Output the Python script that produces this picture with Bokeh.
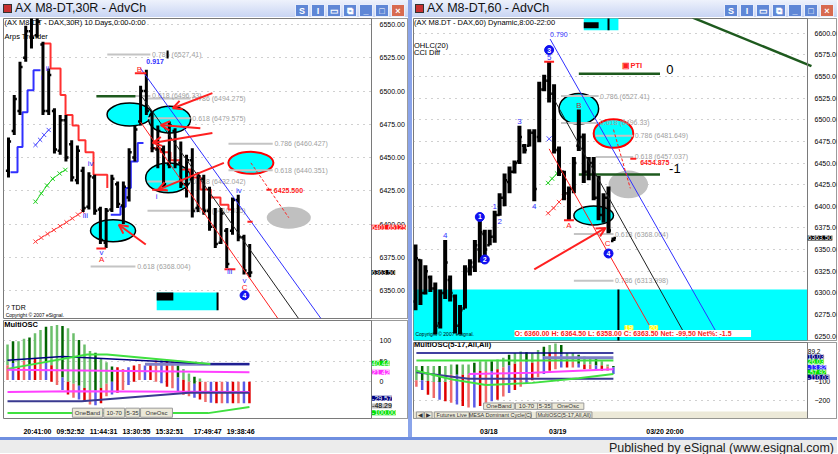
import numpy as np
from bokeh.plotting import figure
from bokeh.layouts import column, row
from bokeh.models import (Div, Range1d, FixedTicker, PrintfTickFormatter, Label, Arrow,
                          OpenHead, BoxAnnotation, ColumnDataSource, Span)
from bokeh.embed import file_html
from bokeh.resources import INLINE
from bokeh.core.properties import value

FONT = "Liberation Sans"

# ================= LEFT CHART : AX M8-DT,30R =================
L_high = [6465, 6497, 6522, 6549, 6557, 6556, 6537, 6517, 6487, 6482, 6482, 6463, 6459, 6443, 6439, 6437,
          6413, 6412, 6437, 6432, 6432, 6457, 6474, 6504, 6516, 6484, 6474, 6459, 6477, 6472, 6462, 6452,
          6457, 6439, 6437, 6428, 6412, 6412, 6397, 6420, 6422, 6392, 6385]
L_low = [6435, 6467, 6482, 6522, 6532, 6540, 6482, 6482, 6453, 6452, 6447, 6432, 6430, 6409, 6411, 6407,
         6385, 6382, 6409, 6412, 6400, 6417, 6447, 6474, 6482, 6454, 6442, 6427, 6442, 6442, 6427, 6420,
         6405, 6409, 6407, 6395, 6382, 6385, 6367, 6392, 6387, 6362, 6360]
L_open = [6440, 6470, 6485, 6525, 6545, 6542, 6535, 6485, 6485, 6455, 6478, 6460, 6433, 6440, 6413, 6435,
          6411, 6386, 6411, 6430, 6414, 6420, 6450, 6477, 6500, 6482, 6456, 6456, 6445, 6470, 6446, 6430,
          6448, 6412, 6434, 6410, 6398, 6386, 6395, 6395, 6418, 6390, 6363]
L_close = [6462, 6494, 6518, 6545, 6540, 6552, 6485, 6512, 6456, 6478, 6450, 6435, 6455, 6412, 6436, 6410,
           6388, 6410, 6434, 6415, 6428, 6454, 6471, 6500, 6485, 6457, 6470, 6430, 6474, 6445, 6430, 6448,
           6410, 6436, 6410, 6398, 6385, 6408, 6370, 6418, 6390, 6365, 6363.5]
L_ticks = [6350, 6375, 6400, 6425, 6450, 6475, 6500, 6525, 6550]

# Arps Trender steps
L_blue1_x = [0.35, 1.57, 2.44, 3.31, 4.36, 5.57]
L_blue1_y = [6439, 6458, 6484, 6500.6, 6515.6, 6515.6]
L_red1_x = [5.92, 7.32, 9.06, 9.93, 11.15, 12.2, 13.4, 14.8, 17.2]
L_red1_y = [6535.8, 6517, 6497, 6482, 6474, 6463, 6454, 6437, 6427]
L_blue2_x = [17.8, 19.5, 20.4, 21.3, 22.5, 23.5]
L_blue2_y = [6407, 6413, 6427, 6447, 6461, 6461]
L_red2_x = [24.7, 26.5, 28.2, 30.0, 31.7, 33.4, 35.2, 36.9, 38.3, 39.0]
L_red2_y = [6457, 6454, 6448, 6441, 6435, 6426, 6420, 6414.5, 6411, 6411]

# ellipses
L_ell_x = [21.08, 28.05, 27.8, 18.2]
L_ell_y = [6482.3, 6478.5, 6434.7, 6395.0]
L_ell_w = [7.84, 7.3, 7.84, 7.84]
L_ell_h = [17.2, 20.2, 22.5, 16.5]
L_ellred = [42.2, 6446.0, 7.84, 16.5]
L_ellgray = [48.8, 6404.8, 7.67, 16.5]

# fib levels
L_fib_text = ["0.786 (6527.41)", "0.618 (6496.33)", "0.786 (6494.275)", "0.618 (6479.575)",
              "0.786 (6460.427)", "0.618 (6440.351)", "0.618 (6432.042)", "0.786 (6410.035)",
              "0.618 (6368.004)"]
L_fib_val = [6527.41, 6496.33, 6494.275, 6479.575, 6460.427, 6440.351, 6432.042, 6410.035, 6368.004]
L_fib_x0 = [17.2, 17.2, 24.2, 24.2, 38.3, 38.3, 24.2, 24.2, 14.3]
L_fib_x1 = [24.7, 24.7, 31.7, 31.7, 46.0, 46.0, 31.7, 31.7, 22.1]

# trend lines
L_tl_x0 = [23.0, 23.3, 23.0]
L_tl_y0 = [6517.0, 6495.4, 6476.6]
L_tl_x1 = [54.4, 50.5, 46.9]
L_tl_y1 = [6329.0, 6329.0, 6329.0]
L_tl_col = ["#3030ff", "#202020", "#ff2020"]

# arrows
L_arr_x0 = [23.9, 35.5, 35.5, 37.5, 33.4]
L_arr_y0 = [6384.6, 6498.4, 6468.4, 6446.0, 6472.0]
L_arr_x1 = [19.2, 28.6, 25.1, 26.0, 26.5]
L_arr_y1 = [6399.5, 6487.0, 6461.0, 6425.7, 6474.4]

# wave labels
L_lab_x = [5.75, 6.8, 13.4, 14.3, 16.2, 16.2, 22.8, 25.8, 40.1, 38.5, 41.1, 41.1]
L_lab_y = [6510.3, 6517.0, 6406.3, 6445.2, 6378.6, 6373.4, 6516.3, 6420.5, 6425.0, 6364.4, 6357.6, 6352.4]
L_lab_t = ["i", "ii", "iii", "iv", "v", "A", "B", "i", "iv", "iii", "v", "C"]
L_lab_c = ["#3030ff", "#3030ff", "#3030ff", "#3030ff", "#3030ff", "#ff2020", "#ff2020", "#3030ff",
           "#3030ff", "#3030ff", "#3030ff", "#ff2020"]
L_circ = [41.1, 6346.4, "4"]

L_rtick_x0 = [15.3, 22.0, 25.0, 37.6, 41.6, 44.9]
L_rtick_x1 = [17.0, 24.0, 27.5, 39.5, 42.5, 45.8]
L_rtick_y = [6381.6, 6513.3, 6425.7, 6366.0, 6401.8, 6425.7]
L_target = [46.2, 6425.5, "6425.500"]

L_xb_x = [4.7, 5.5, 6.2, 7.0]
L_xb_y = [6459.4, 6463.3, 6467.0, 6470.7]
L_xg_x = [4.7, 5.7, 6.7, 7.7, 8.9, 9.9]
L_xg_y = [6416.8, 6423.0, 6429.0, 6434.0, 6438.0, 6440.7]
L_xr_x = [4.7, 5.7, 6.8, 7.9, 9.0, 10.1, 11.1, 12.1, 12.9]
L_xr_y = [6386.8, 6389.7, 6392.6, 6395.5, 6398.4, 6401.3, 6404.2, 6407.1, 6409.4]

L_green_level = [15.3, 22.1, 6496.1]
L_box = [25.8, 36.4, 6335.2, 6348.6, 28.7, 6342.6]
L_tags_t = ["6401.65125", "6363.50"]
L_tags_y = [6397.5, 6363.5]
L_tags_bg = ["#ff1010", "black"]

# ---- left oscillator ----
OL_top = [90, 98, 98, 104, 107, 117, 125, 133, 135, 137, 135, 129, 117, 101, 90, 74, 70, 55, 47, 37,
          35, 31, 35, 39, 43, 39, 43, 51, 52, 52, 52, 39, 31, 20, 12, 8, 0, 0, 0, 0, 0, 0, 0, 0, 0]
OL_mid = [40, 45, 35, 50, 40, 55, 50, 45, 40, 30, 10, 0, -5, -10, -15, -20, -20, -15, -5, 0,
          35, 31, 35, 39, 43, 39, 43, 51, 52, 52, 52, 10, 5, 0, -5, 0, 0, 0, 0, 0, 0, 0, 0, 0, 0]
OL_bot = [4, 4, 4, 4, 4, 4, 4, 4, 0, -8, -20, -31, -39, -43, -47, -55, -57, -52, -35, -31,
          -27, -20, -8, 0, 4, 4, 4, 0, -4, -12, -16, -23, -31, -35, -39, -43, -49, -51, -52, -52,
          -52, -52, -52, -52, -52]
OL_navyhi_x = [0, 10, 37, 44]; OL_navyhi_y = [52, 61, 43, 43]
OL_green_x = [0, 14.5, 18.1, 36.9]; OL_green_y = [31, 66, 66, 43]
OL_slate_x = [25, 44]; OL_slate_y = [42, 42]
OL_maghi_x = [0, 44]; OL_maghi_y = [29, 23]
OL_maglo_x = [0, 12, 44]; OL_maglo_y = [-25, -23, -25]
OL_navylo_x = [0, 13.5, 33, 44]; OL_navylo_y = [-47, -47, -27, -27]
OL_greenlo_x = [0, 36.5, 44]; OL_greenlo_y = [-76, -76, -61]
OL_xticks = [5.45, 11.45, 17.45, 23.45, 29.45, 36.4, 42.4]
OL_xlabels = ["20:41:00", "09:52:52", "11:44:31", "13:30:55", "15:32:51", "17:49:47", "19:38:46"]
OL_tags_t = ["40.44", "21.42", "-29.57", "-48.29", "-100.00"]
OL_tags_y = [44.5, 23, -40, -58.5, -75]
OL_tags_bg = ["#00e000", "#ff30ff", "#000080", "#c0c0c0", "#00e000"]
OL_tags_fg = ["white", "white", "white", "black", "white"]

# ================= RIGHT CHART : AX M8-DT,60 =================
R_high = [6356, 6339, 6332, 6320, 6312, 6304, 6361, 6320, 6298, 6286, 6332, 6339, 6361, 6384, 6373, 6373,
          6395, 6415, 6438, 6446, 6453, 6493, 6472, 6489, 6489, 6544, 6552, 6567, 6541, 6469, 6441, 6423,
          6457, 6512, 6484, 6457, 6457, 6435, 6415, 6423, 6364]
R_low = [6280, 6286, 6298, 6301, 6252, 6259, 6293, 6290, 6253, 6252, 6282, 6320, 6324, 6335, 6343, 6355,
         6358, 6389, 6400, 6415, 6438, 6449, 6461, 6469, 6406, 6474, 6533, 6520, 6461, 6435, 6407, 6383,
         6415, 6464, 6427, 6430, 6407, 6384, 6381, 6369, 6360]
R_open = [6290, 6338, 6300, 6318, 6305, 6265, 6300, 6315, 6296, 6262, 6282, 6325, 6330, 6350, 6368, 6355,
          6365, 6390, 6410, 6428, 6440, 6452, 6470, 6470, 6485, 6480, 6535, 6545, 6530, 6465, 6440, 6415,
          6420, 6470, 6480, 6440, 6450, 6410, 6390, 6410, 6360]
R_close = [6340, 6300, 6325, 6305, 6262, 6300, 6335, 6300, 6262, 6280, 6328, 6335, 6355, 6370, 6350, 6365,
           6390, 6410, 6430, 6440, 6450, 6480, 6465, 6485, 6420, 6535, 6545, 6530, 6465, 6440, 6415, 6420,
           6450, 6480, 6440, 6450, 6410, 6390, 6410, 6372, 6363.5]
R_ticks = [6250, 6275, 6300, 6325, 6350, 6375, 6400, 6425, 6450, 6475, 6500, 6525, 6550, 6575, 6600]
R_zone_top = 6304.0

R_ell_x = [33.0, 36.0]
R_ell_y = [6512.7, 6389.4]
R_ell_w = [8.0, 8.0]
R_ell_h = [35.4, 21.7]
R_ellred = [40.0, 6484.1, 8.0, 33.1]
R_ellgray = [43.0, 6425.3, 8.0, 32.0]

R_fib_text = ["0.786 (6527.41)", "0.618 (6496.33)", "0.786 (6481.649)", "0.618 (6457.037)",
              "0.618 (6368.004)", "0.786 (6313.998)"]
R_fib_val = [6527.41, 6496.33, 6481.649, 6457.037, 6368.004, 6313.998]
R_fib_x0 = [29.4, 29.4, 36.4, 36.4, 32.0, 32.0]
R_fib_x1 = [37.0, 37.0, 44.0, 44.0, 40.0, 40.0]

R_tl_x0 = [27.2, 28.0, 27.0]
R_tl_y0 = [6593.2, 6523.5, 6466.4]
R_tl_x1 = [61.4, 54.8, 47.4]
R_tl_y1 = [6248.4, 6248.4, 6261.0]
R_tl_col = ["#3030ff", "#202020", "#ff2020"]

R_lvl_x0 = [33.0, 33.0]
R_lvl_x1 = [49.4, 49.4]
R_lvl_y = [6553.2, 6436.8]
R_lvl_t = ["0", "-1"]
R_lvl_tx = [51.4, 52.4]
R_lvl_ty = [6557.8, 6443.6]
R_trend_x = [56.0, 80.0]
R_trend_y = [6618.0, 6562.0]

R_lab_x = [16.0, 17.0, 6.0, 21.0, 24.0, 27.0, 31.0, 33.0, 38.8]
R_lab_y = [6400.0, 6382.0, 6366.0, 6498.4, 6400.2, 6571.5, 6377.4, 6516.0, 6357.0]
R_lab_t = ["1", "2", "4", "3", "4", "5", "A", "B", "C"]
R_lab_c = ["#3030ff", "#3030ff", "#3030ff", "#3030ff", "#3030ff", "#3030ff", "#ff2020", "#b03030", "#ff2020"]
R_circ_x = [13.0, 14.0, 27.0, 39.0]
R_circ_y = [6387.7, 6338.6, 6580.6, 6345.5]
R_circ_t = ["1", "2", "3", "4"]
R_rtick_x0 = [26.0, 30.0, 43.4]
R_rtick_x1 = [28.0, 32.0, 44.6]
R_rtick_y = [6567.0, 6384.0, 6454.875]
R_target = [45.4, 6451.0, "6454.875"]
R_arrow = [24.0, 6327.2, 38.4, 6375.0]
R_proj = [40.0, 6488.7, 43.4, 6420.8]
R_xg_x = [26.8, 27.6, 28.6]; R_xg_y = [6427.0, 6432.0, 6438.0]
R_xr_x = [26.8, 27.9, 29.0, 30.0]; R_xr_y = [6392.0, 6398.0, 6405.0, 6411.0]
R_xb = [27.0, 6478.0]
R_box = [34.0, 41.0, 6603.4, 6618.0, 37.0, 6605.7, 6612.6, 39.0]
R_vline = [41.0, 6304.0, 6240.0]
R_tags_t = ["6363.50"]
R_tags_y = [6363.5]
R_tags_bg = ["black"]

OR_top = [-12, -12, -12, -12, -12, -12, -4, -4, -4, -4, 5, 14, 14, 14, 23, 32, 49, 58, 67, 63,
          58, 75, 93, 102, 110, 102, 58, 58, 49, 40, 32, 32, 14, -4, -12]
OR_mid = [-90, -90, -95, -100, -100, -100, -60, -60, -60, -60, -50, -40, -40, -40, -30, -20, -10, 0, 10, 10,
          5, 20, 40, 60, 60, 50, 20, 10, 0, -5, -5, -10, -10, -15, -20]
OR_bot = [-126, -144, -170, -188, -197, -205, -214, -223, -232, -240, -240, -232, -214, -205, -197, -179,
          -161, -144, -126, -109, -91, -74, -56, -39, -30, -21, -21, -21, -21, -30, -30, -39, -39, -39, -56]
OR_navyhi_x = [0, 34]; OR_navyhi_y = [58, 58]
OR_greenhi_x = [0, 34]; OR_greenhi_y = [18, 18]
OR_navylo_x = [0, 9, 34]; OR_navylo_y = [-47, -82, -82]
OR_green_x = [0, 6, 12, 20, 28, 34]; OR_green_y = [-39, -85, -117, -105, -80, -56]
OR_mag_x = [9, 20, 34]; OR_mag_y = [-56, -50, -30]
OR_slate_x = [22, 34]; OR_slate_y = [32, 32]
OR_xticks = [12.5, 24.4, 42.9]
OR_xlabels = ["03/18", "03/19", "03/20 20:00"]
OR_tags_t = ["89.2", "16.03", "26.03", "-13.82", "-57.92", "-110.03"]
OR_tags_y = [68, 37, 10.5, -21, -47, -74]
OR_tags_bg = ["white", "#000080", "#00e000", "#2020ff", "#00e000", "#000080"]
OR_tags_fg = ["black", "white", "white", "white", "white", "white"]

# ================= helpers =================

def base(w, h, x0, xb, sw, yr, ticks, mbl, mbb=1, xaxis=False, standoff=2):
    """figure whose frame also covers the price-label strip right of xb"""
    fw = w - mbl - 1
    xe = xb + sw * (xb - x0) / (fw - sw)
    p = figure(width=w, height=h, x_range=Range1d(x0, xe), y_range=Range1d(*yr),
               output_backend="svg", toolbar_location=None,
               x_axis_location="below" if xaxis else None, y_axis_location="right",
               min_border_left=mbl, min_border_right=1, min_border_top=1, min_border_bottom=mbb,
               background_fill_color="white", border_fill_color="white")
    p.outline_line_color = "#7a7a7a"
    p.ygrid.ticker = FixedTicker(ticks=ticks)
    p.ygrid.grid_line_color = "#a0a0a0"
    p.ygrid.grid_line_dash = "1 5"
    p.xgrid.visible = False
    p.add_layout(BoxAnnotation(left=xb, fill_color="white", fill_alpha=1.0, line_color=None, level="underlay"))
    p.add_layout(Span(location=xb, dimension="height", line_color="#7a7a7a", line_width=1))
    ax = p.yaxis[0]
    ax.fixed_location = xb
    ax.ticker = FixedTicker(ticks=ticks)
    ax.major_tick_line_color = None
    ax.minor_tick_line_color = None
    ax.axis_line_color = None
    ax.major_label_text_font = FONT
    ax.major_label_text_font_size = "7px"
    ax.major_label_text_color = "black"
    ax.major_label_standoff = standoff
    if xaxis:
        xa = p.xaxis[0]
        xa.major_tick_line_color = None
        xa.minor_tick_line_color = None
        xa.axis_line_color = None
        xa.major_label_text_font = FONT
        xa.major_label_text_font_size = "7px"
        xa.major_label_text_font_style = "bold"
        xa.major_label_text_color = "black"
        xa.major_label_standoff = 3
    return p, xb


def texts(p, xs, ys, ts, cs, size="7px", style="normal", align="left", baseline="middle"):
    src = ColumnDataSource(dict(x=xs, y=ys, t=ts, c=cs))
    p.text(x="x", y="y", text="t", text_color="c", source=src, text_font=value(FONT),
           text_font_size=size, text_font_style=style, text_align=align, text_baseline=baseline)


def ohlc(p, hi, lo, op, cl, tick, width):
    x = np.arange(len(hi))
    src = ColumnDataSource(dict(x=x, xl=x - tick, xr=x + tick, h=hi, l=lo, o=op, c=cl))
    p.segment(x0="x", y0="l", x1="x", y1="h", line_color="black", line_width=width, source=src)
    p.segment(x0="xl", y0="o", x1="x", y1="o", line_color="black", line_width=2.5, source=src)
    p.segment(x0="x", y0="c", x1="xr", y1="c", line_color="black", line_width=2.5, source=src)


def tag(p, x, y, text, bg, fg, size="7px"):
    p.add_layout(Label(x=x, y=y, text=text, text_color=fg, background_fill_color=bg,
                       background_fill_alpha=1.0, text_font=FONT, text_font_size=size,
                       text_baseline="middle", text_align="left"))


def fibs(p, x0, x1, vals, labels):
    p.segment(x0=x0, y0=vals, x1=x1, y1=vals, line_color="#c4c4c4", line_width=2)
    texts(p, [a + 0.3 for a in x1], vals, labels, ["#a0a0a0"] * len(labels))


def osc_bars(p, top, mid, bot):
    j = np.arange(len(top))
    upc = ["#6cbf6c", "#006400", "#6cbf6c"]
    loc = ["#f06a6a", "#5a5ae6", "#e00000"]
    src = ColumnDataSource(dict(x=j, t=top, m=mid, b=bot,
                                uc=[upc[k % 3] for k in j], lc=[loc[k % 3] for k in j]))
    p.segment(x0="x", y0="t", x1="x", y1="m", line_color="uc", line_width=2.5, source=src)
    p.segment(x0="x", y0="m", x1="x", y1="b", line_color="lc", line_width=2.5, source=src)


def buttons(p, x0s, x1s, y0, y1, labels, size="6px"):
    p.quad(left=x0s, right=x1s, bottom=[y0] * len(x0s), top=[y1] * len(x0s),
           fill_color="#ece9d8", line_color="#9a9a9a", line_width=1)
    texts(p, [(a + b) / 2 for a, b in zip(x0s, x1s)], [(y0 + y1) / 2] * len(x0s), labels,
          ["#333333"] * len(x0s), size=size, align="center")

# ================= LEFT PRICE =================
pL, xbL = base(408, 302, -0.87, 63.2, 36, (6329.0, 6554.5), L_ticks, 3)
pL.yaxis.formatter = PrintfTickFormatter(format="%.2f")

pL.ellipse(x=L_ell_x, y=L_ell_y, width=L_ell_w, height=L_ell_h, fill_color="#00ffff",
           line_color="black", line_width=1.5)
pL.ellipse(x=[L_ellred[0]], y=[L_ellred[1]], width=[L_ellred[2]], height=[L_ellred[3]],
           fill_color="#00ffff", line_color="#ff0000", line_width=2)
pL.ellipse(x=[L_ellgray[0]], y=[L_ellgray[1]], width=[L_ellgray[2]], height=[L_ellgray[3]],
           fill_color="#c0c0c0", line_color=None)
fibs(pL, L_fib_x0, L_fib_x1, L_fib_val, L_fib_text)
pL.segment(x0=[L_green_level[0]], y0=[L_green_level[2]], x1=[L_green_level[1]], y1=[L_green_level[2]],
           line_color="#1e5a1e", line_width=2.5)
pL.step(L_blue1_x, L_blue1_y, mode="after", line_color="#3030ff", line_width=2)
pL.step(L_red1_x, L_red1_y, mode="after", line_color="#ff3030", line_width=2)
pL.step(L_blue2_x, L_blue2_y, mode="after", line_color="#3030ff", line_width=2)
pL.step(L_red2_x, L_red2_y, mode="after", line_color="#ff3030", line_width=2)
for xs, ys, col in [(L_xb_x, L_xb_y, "#5050ff"), (L_xg_x, L_xg_y, "#20d020"), (L_xr_x, L_xr_y, "#ff4040")]:
    pL.line(xs, ys, line_color=col, line_width=1)
    pL.scatter(xs, ys, marker="x", size=6, line_color=col, line_width=1)

pL.quad(left=[L_box[0]], right=[L_box[1]], bottom=[L_box[2]], top=[L_box[3]], fill_color="#00ffff", line_color=None)
pL.quad(left=[L_box[0]], right=[L_box[4]], bottom=[L_box[5]], top=[L_box[3]], fill_color="black", line_color=None)
pL.segment(x0=[L_box[1]], y0=[L_box[2]], x1=[L_box[1]], y1=[L_box[3]], line_color="black", line_width=2)
pL.segment(x0=[27.7], y0=[6524.5], x1=[27.7], y1=[6530.5], line_color="black", line_width=2)

ohlc(pL, L_high, L_low, L_open, L_close, 0.45, 3)

pL.segment(x0=L_tl_x0, y0=L_tl_y0, x1=L_tl_x1, y1=L_tl_y1, line_color=L_tl_col, line_width=1)
pL.segment(x0=[L_ellred[0]], y0=[L_ellred[1]], x1=[L_ellgray[0]], y1=[L_ellgray[1]],
           line_color="#ff2020", line_width=1, line_dash="3 2")
pL.segment(x0=L_rtick_x0, y0=L_rtick_y, x1=L_rtick_x1, y1=L_rtick_y, line_color="#ff2020", line_width=2)
pL.add_layout(Arrow(end=OpenHead(size=9, line_color="#ff2020", line_width=2),
                    source=ColumnDataSource(dict(x0=L_arr_x0, y0=L_arr_y0, x1=L_arr_x1, y1=L_arr_y1)),
                    x_start="x0", y_start="y0", x_end="x1", y_end="y1", line_color="#ff2020", line_width=2))

texts(pL, L_lab_x, L_lab_y, L_lab_t, L_lab_c, size="8px", align="center")
texts(pL, [24.0], [6522.3], ["0.917"], ["#3030ff"], style="bold")
texts(pL, [L_target[0]], [L_target[1]], [L_target[2]], ["#ff2020"], style="bold")
pL.scatter(x=[L_circ[0]], y=[L_circ[1]], marker="circle", size=9, fill_color="#1010f0", line_color="#1010f0")
texts(pL, [L_circ[0]], [L_circ[1]], [L_circ[2]], ["white"], size="7px", style="bold", align="center")

texts(pL, [-0.7], [6551.5], ["(AX M8-DT - DAX,30R) 10 Days,0:00-0:00"], ["black"], size="7.5px")
texts(pL, [-0.7], [6541.0], ["Arps Trender"], ["black"], size="7.5px")
texts(pL, [-0.5], [6337.0], ["? TDR"], ["black"], size="7px")
texts(pL, [-0.5], [6331.8], ["Copyright \u00a9 2007 eSignal."], ["black"], size="5px")
for t, y, bg in zip(L_tags_t, L_tags_y, L_tags_bg):
    tag(pL, xbL + 0.03, y, t, bg, "white", size="6.5px")

# ================= LEFT OSC =================
oL, xbO = base(408, 118, -0.73, 66.2, 36, (-89.0, 148.0), [100, 50, 0], 3, mbb=16, xaxis=True)
oL.xaxis.ticker = FixedTicker(ticks=OL_xticks)
oL.xaxis.major_label_overrides = {t: s for t, s in zip(OL_xticks, OL_xlabels)}
osc_bars(oL, OL_top, OL_mid, OL_bot)
oL.line(OL_slate_x, OL_slate_y, line_color="#8080c8", line_width=3)
oL.line(OL_navyhi_x, OL_navyhi_y, line_color="#000080", line_width=1.5)
oL.line(OL_green_x, OL_green_y, line_color="#40e040", line_width=2)
oL.line(OL_maghi_x, OL_maghi_y, line_color="#ff40ff", line_width=2)
oL.line(OL_maglo_x, OL_maglo_y, line_color="#ff40ff", line_width=2)
oL.line(OL_navylo_x, OL_navylo_y, line_color="#3a3a90", line_width=2)
oL.line(OL_greenlo_x, OL_greenlo_y, line_color="#40e040", line_width=2)
buttons(oL, [11.8, 17.5, 21.5, 24.2], [17.3, 21.3, 24.0, 30.0], -86, -64,
        ["OneBand", "10-70", "5-35", "OneOsc"])
texts(oL, [-0.6], [138], ["MultiOSC"], ["black"], size="7.5px", style="bold")
for t, y, bg, fg in zip(OL_tags_t, OL_tags_y, OL_tags_bg, OL_tags_fg):
    tag(oL, xbO + 0.1, y, t, bg, fg)

# ================= RIGHT PRICE =================
pR, xbR = base(425, 324, -0.4, 79.2, 29, (6245.0, 6617.0), R_ticks, 1, standoff=1)
pR.yaxis.formatter = PrintfTickFormatter(format="%.2f")
pR.add_layout(BoxAnnotation(top=R_zone_top, right=xbR, fill_color="#00ffff", fill_alpha=1.0,
                            line_color=None, level="underlay"))
pR.ellipse(x=R_ell_x, y=R_ell_y, width=R_ell_w, height=R_ell_h, fill_color="#00ffff",
           line_color="black", line_width=1.5)
pR.ellipse(x=[R_ellred[0]], y=[R_ellred[1]], width=[R_ellred[2]], height=[R_ellred[3]],
           fill_color="#00ffff", line_color="#ff0000", line_width=2)
pR.ellipse(x=[R_ellgray[0]], y=[R_ellgray[1]], width=[R_ellgray[2]], height=[R_ellgray[3]],
           fill_color="#c0c0c0", line_color=None)
fibs(pR, R_fib_x0, R_fib_x1, R_fib_val, R_fib_text)
pR.segment(x0=R_lvl_x0, y0=R_lvl_y, x1=R_lvl_x1, y1=R_lvl_y, line_color="#1e5a1e", line_width=2.5)
pR.line(R_trend_x, R_trend_y, line_color="#1e5a1e", line_width=2.5)
texts(pR, R_lvl_tx, R_lvl_ty, R_lvl_t, ["black", "black"], size="13px", align="center")
texts(pR, [43.8], [6562.3], ["\u25a3PTI"], ["#ff2020"], size="7.5px", style="bold", align="center")

pR.quad(left=[R_box[0]], right=[R_box[1]], bottom=[R_box[2]], top=[R_box[3]], fill_color="#00ffff", line_color=None)
pR.quad(left=[R_box[0]], right=[R_box[4]], bottom=[R_box[5]], top=[R_box[6]], fill_color="black", line_color=None)
pR.segment(x0=[R_box[7]], y0=[R_box[2]], x1=[R_box[7]], y1=[R_box[3]], line_color="black", line_width=2)
pR.segment(x0=[R_vline[0]], y0=[R_vline[1]], x1=[R_vline[0]], y1=[R_vline[2]], line_color="black", line_width=2)

for xs, ys, col in [(R_xg_x, R_xg_y, "#20d020"), (R_xr_x, R_xr_y, "#ff4040")]:
    pR.line(xs, ys, line_color=col, line_width=1)
    pR.scatter(xs, ys, marker="x", size=6, line_color=col, line_width=1)
pR.scatter(x=[R_xb[0]], y=[R_xb[1]], marker="x", size=7, line_color="#5050ff", line_width=1)

ohlc(pR, R_high, R_low, R_open, R_close, 0.5, 4)

pR.segment(x0=R_tl_x0, y0=R_tl_y0, x1=R_tl_x1, y1=R_tl_y1, line_color=R_tl_col, line_width=1)
pR.segment(x0=[R_proj[0]], y0=[R_proj[1]], x1=[R_proj[2]], y1=[R_proj[3]], line_color="#ff2020",
           line_width=1, line_dash="3 2")
pR.segment(x0=R_rtick_x0, y0=R_rtick_y, x1=R_rtick_x1, y1=R_rtick_y, line_color="#ff2020", line_width=2)
pR.add_layout(Arrow(end=OpenHead(size=9, line_color="#ff2020", line_width=2),
                    x_start=R_arrow[0], y_start=R_arrow[1], x_end=R_arrow[2], y_end=R_arrow[3],
                    line_color="#ff2020", line_width=2))
texts(pR, R_lab_x, R_lab_y, R_lab_t, R_lab_c, size="8px", align="center")
pR.scatter(x=R_circ_x, y=R_circ_y, marker="circle", size=9, fill_color="#1010f0", line_color="#1010f0")
texts(pR, R_circ_x, R_circ_y, R_circ_t, ["white"] * 4, size="7px", style="bold", align="center")
texts(pR, [27.2], [6598.9], ["0.790"], ["#3030ff"])
texts(pR, [R_target[0]], [R_target[1]], [R_target[2]], ["#ff2020"], style="bold")

texts(pR, [-0.3], [6612.0], ["(AX M8.DT - DAX,60) Dynamic,8:00-22:00"], ["black"], size="7.5px")
texts(pR, [-0.3], [6586.3], ["OHLC(20)"], ["black"], size="7.5px")
texts(pR, [-0.3], [6577.2], ["CCI Diff"], ["black"], size="7.5px")
texts(pR, [0.0], [6252.5], ["Copyright \u00a9 2007 eSignal."], ["black"], size="5px")
pR.add_layout(Label(x=20.0, y=6253.0, text="O: 6360.00   H: 6364.50   L: 6358.00   C: 6363.50   Net: -99.50   Net%: -1.5",
                    text_color="#ff2020", background_fill_color="white", text_font=FONT,
                    text_font_size="7px", text_font_style="bold", text_baseline="middle"))
tag(pR, 42.2, 6259.8, "19", "#ffff00", "white", size="8px")
tag(pR, 47.2, 6259.8, "20", "#ffff00", "white", size="8px")
for t, y, bg in zip(R_tags_t, R_tags_y, R_tags_bg):
    tag(pR, xbR + 0.05, y, t, bg, "white", size="6.8px")

# ================= RIGHT OSC =================
oR, xbQ = base(425, 96, -0.5, 67.5, 29, (-300.0, 116.0), [-100, -200], 1, mbb=16, xaxis=True, standoff=1)
oR.xaxis.ticker = FixedTicker(ticks=OR_xticks)
oR.xaxis.major_label_overrides = {t: s for t, s in zip(OR_xticks, OR_xlabels)}
osc_bars(oR, OR_top, OR_mid, OR_bot)
oR.line(OR_navyhi_x, OR_navyhi_y, line_color="#000080", line_width=1.5)
oR.line(OR_slate_x, OR_slate_y, line_color="#8080c8", line_width=3)
oR.line(OR_greenhi_x, OR_greenhi_y, line_color="#40e040", line_width=2)
oR.line(OR_navylo_x, OR_navylo_y, line_color="#3a3a90", line_width=2)
oR.line(OR_green_x, OR_green_y, line_color="#40e040", line_width=2)
oR.line(OR_mag_x, OR_mag_y, line_color="#ff40ff", line_width=2)
buttons(oR, [11.6, 17.1, 20.9, 23.4], [16.9, 20.9, 23.4, 28.9], -250, -215,
        ["OneBand", "10-70", "5-35", "OneOsc"])
oR.quad(left=[-0.5], right=[xbQ], bottom=[-300], top=[-262], fill_color="#ece9d8", line_color=None)
buttons(oR, [0.0, 1.4, 3.1, 9.2, 20.7], [1.3, 2.7, 9.1, 19.8, 30.3], -298, -264,
        ["\u25c0", "\u25b6", "Futures Live", "MESA Dominant Cycle(C)", "MultiOSC(5-17,All,All)"], size="5.5px")
texts(oR, [-0.4], [103], ["MultiOSC(5-17,All,All)"], ["black"], size="7.5px", style="bold")
for t, y, bg, fg in zip(OR_tags_t, OR_tags_y, OR_tags_bg, OR_tags_fg):
    tag(oR, xbQ + 0.05, y, t, bg, fg, size="6.5px")

# ================= window chrome =================

def title_bar(text, w):
    btn = ('<span style="display:inline-block;width:14px;height:13px;margin-left:2px;background:{bg};'
           'color:white;font:bold 9px {f};text-align:center;line-height:13px;border:1px solid #e8eefc;'
           'box-sizing:border-box">{t}</span>')
    items = [("#5f87d6", "S"), ("#5f87d6", "I"), ("#5f87d6", "&#9645;"), ("#5f87d6", "&#10697;"),
             ("#5f87d6", "_"), ("#5f87d6", "&#9633;"), ("#d86a50", "&#215;")]
    btns = "".join(btn.format(bg=b, t=t, f=FONT) for b, t in items)
    html = (f'<div style="position:relative;width:{w}px;height:17px;background:linear-gradient(#eef2fc,#c9d5f3);'
            f'font-family:{FONT};font-size:12.5px;line-height:17px;color:#111;white-space:nowrap;overflow:hidden;">'
            '<span style="display:inline-block;width:9px;height:9px;margin:0 3px 0 3px;background:#c83030;'
            'border:1px solid #333;vertical-align:-1px"></span>'
            f'{text}<span style="position:absolute;right:3px;top:2px;">{btns}</span></div>')
    return Div(text=html, width=w, height=17, margin=0)

left_win = column(title_bar("AX M8-DT,30R - AdvCh", 408), pL, oL, spacing=0)
right_win = column(title_bar("AX M8-DT,60 - AdvCh", 425), pR, oR, spacing=0)
gap = Div(text="", width=4, height=437, margin=0, styles={"background-color": "#8aa4ea"})
border = Div(text="", width=837, height=3, margin=0, styles={"background-color": "#6f8fe0"})
status = Div(text=(f'<div style="width:834px;height:13px;font-family:{FONT};'
                   'font-size:12.5px;line-height:13px;text-align:right;color:#222;">'
                   'Published by eSignal (www.esignal.com)</div>'),
             width=837, height=13, margin=0, styles={"background-color": "#ececec"})

page = column(row(left_win, gap, right_win, spacing=0), border, status, spacing=0)

open("out.html", "w").write(file_html(page, INLINE))
